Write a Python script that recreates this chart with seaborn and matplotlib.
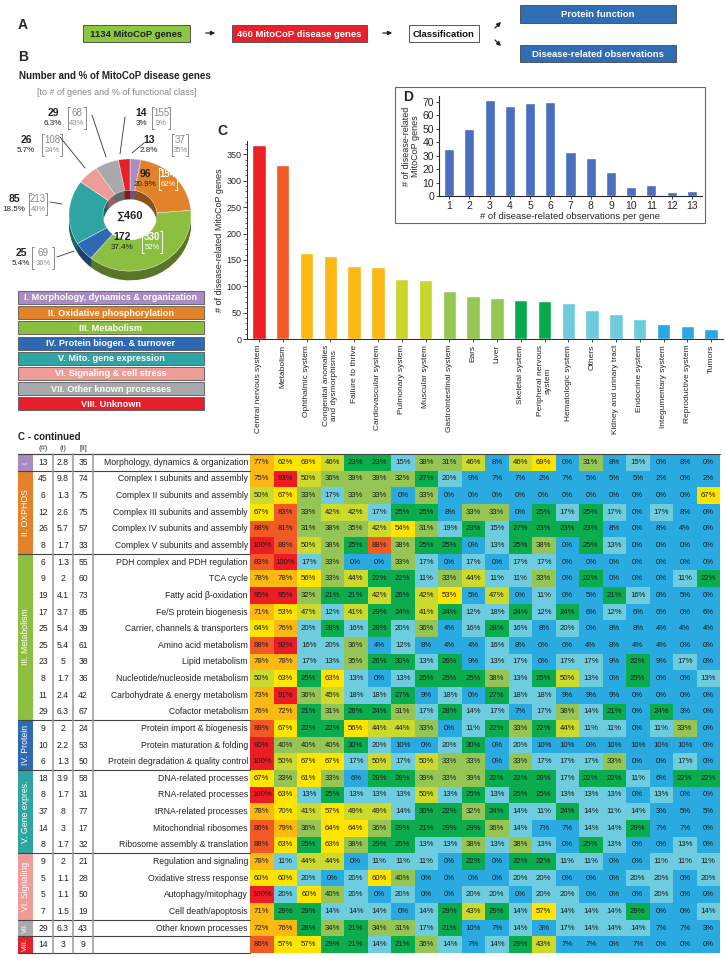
import numpy as np
import pandas as pd
import matplotlib
matplotlib.use("Agg")
import matplotlib.pyplot as plt
from matplotlib.patches import Rectangle
from matplotlib.colors import ListedColormap, BoundaryNorm, to_rgb
from matplotlib.ticker import MultipleLocator
import seaborn as sns

sns.set_style("ticks")
plt.rcParams['font.family'] = ['Liberation Sans', 'DejaVu Sans']

# ---------------- data ----------------
class_names = ["I. Morphology, dynamics & organization", "II. Oxidative phosphorylation",
               "III. Metabolism", "IV. Protein biogen. & turnover", "V. Mito. gene expression",
               "VI. Signaling & cell stress", "VII. Other known processes", "VIII. Unknown"]
class_colors = ["#A88CC2", "#E2822A", "#8CBF3F", "#2E6AB4", "#2EA5A3", "#EE9C98", "#A7A9AC", "#E5202A"]
class_genes = [13, 96, 172, 25, 85, 26, 29, 14]
class_share = ["2.8%", "20.9%", "37.4%", "5.4%", "18.5%", "5.7%", "6.3%", "3%"]
class_total = [37, 154, 330, 69, 213, 108, 68, 155]
class_frac = ["35%", "62%", "52%", "36%", "40%", "24%", "43%", "9%"]

organ_labels = ["Central nervous system", "Metabolism", "Ophthalmic system",
                "Congenital anomalies\nand dysmorphisms", "Failure to thrive",
                "Cardiovascular system", "Pulmonary system", "Muscular system",
                "Gastrointestinal system", "Ears", "Liver", "Skeletal system",
                "Peripheral nervous\nsystem", "Hematologic system", "Others",
                "Kidney and urinary tract", "Endocrine system", "Integumentary system",
                "Reproductive system", "Tumors"]
organ_genes = [367, 329, 164, 158, 138, 136, 114, 112, 92, 82, 79, 74, 72, 68, 55, 48, 38, 28, 26, 20]
organ_colors = ["#ED2024", "#F15A24"] + ["#FDB913"] * 4 + ["#C9D62B"] * 2 + ["#95C753"] * 3 \
    + ["#07AB4E"] * 2 + ["#6ECBDC"] * 4 + ["#2BA8E0"] * 3

obs_per_gene = list(range(1, 14))
obs_genes = [35, 50, 71, 67, 69, 70, 33, 28, 18, 7, 8, 3, 4]

processes = ["Morphology, dynamics & organization", "Complex I subunits and assembly",
             "Complex II subunits and assembly", "Complex III subunits and assembly",
             "Complex IV subunits and assembly", "Complex V subunits and assembly",
             "PDH complex and PDH regulation", "TCA cycle", "Fatty acid β-oxidation",
             "Fe/S protein biogenesis", "Carrier, channels & transporters", "Amino acid metabolism",
             "Lipid metabolism", "Nucleotide/nucleoside metabolism", "Carbohydrate & energy metabolism",
             "Cofactor metabolism", "Protein import & biogenesis", "Protein maturation & folding",
             "Protein degradation & quality control", "DNA-related processes", "RNA-related processes",
             "tRNA-related processes", "Mitochondrial ribosomes", "Ribosome assembly & translation",
             "Regulation and signaling", "Oxidative stress response", "Autophagy/mitophagy",
             "Cell death/apoptosis", "Other known processes", ""]
n_genes = [13, 45, 6, 12, 26, 8, 6, 9, 19, 17, 25, 25, 23, 8, 11, 29, 9, 10, 6, 18, 8, 37, 14, 8,
           9, 5, 5, 7, 29, 14]
pct_all = ["2.8", "9.8", "1.3", "2.6", "5.7", "1.7", "1.3", "2", "4.1", "3.7", "5.4", "5.4", "5",
           "1.7", "2.4", "6.3", "2", "2.2", "1.3", "3.9", "1.7", "8", "3", "1.7", "2", "1.1", "1.1",
           "1.5", "6.3", "3"]
pct_class = [35, 74, 75, 75, 57, 33, 55, 60, 73, 85, 39, 61, 38, 36, 42, 67, 24, 53, 50, 58, 31,
             77, 17, 32, 21, 28, 50, 19, 43, 9]

group_labels = ["I.", "II. OXPHOS", "III. Metabolism", "IV. Protein", "V. Gene expres.",
                "VI. Signaling", "VII.", "VIII."]
group_sizes = [1, 5, 10, 3, 5, 4, 1, 1]

# % of genes of each process with a disease-related observation per organ system
hm_morph = [[77, 62, 69, 46, 23, 23, 15, 38, 31, 46, 8, 46, 69, 0, 31, 8, 15, 0, 8, 0]]
hm_oxphos = [
    [75, 93, 50, 36, 39, 39, 32, 27, 20, 9, 7, 7, 2, 7, 5, 5, 5, 2, 0, 2],
    [50, 67, 33, 17, 33, 33, 0, 33, 0, 0, 0, 0, 0, 0, 0, 0, 0, 0, 0, 67],
    [67, 83, 33, 42, 42, 17, 25, 25, 8, 33, 33, 0, 25, 17, 25, 17, 0, 17, 8, 0],
    [88, 81, 31, 38, 35, 42, 54, 31, 19, 23, 15, 27, 23, 23, 23, 8, 0, 8, 4, 0],
    [100, 88, 50, 38, 25, 88, 38, 25, 25, 0, 13, 25, 38, 0, 25, 13, 0, 0, 0, 0]]
hm_metab = [
    [83, 100, 17, 33, 0, 0, 33, 17, 0, 17, 0, 17, 17, 0, 0, 0, 0, 0, 0, 0],
    [78, 78, 56, 33, 44, 22, 22, 11, 33, 44, 11, 11, 33, 0, 22, 0, 0, 0, 11, 22],
    [95, 95, 32, 21, 21, 42, 26, 42, 53, 5, 47, 0, 11, 0, 5, 21, 16, 0, 5, 0],
    [71, 53, 47, 12, 41, 29, 24, 41, 24, 12, 18, 24, 12, 24, 6, 12, 6, 6, 0, 6],
    [64, 76, 20, 28, 16, 28, 20, 36, 4, 16, 28, 16, 8, 20, 0, 8, 8, 4, 4, 4],
    [88, 92, 16, 20, 36, 4, 12, 8, 4, 4, 16, 8, 0, 0, 4, 8, 4, 4, 0, 0],
    [78, 78, 17, 13, 35, 26, 30, 13, 26, 9, 13, 17, 0, 17, 17, 9, 22, 9, 17, 0],
    [50, 63, 25, 63, 13, 0, 13, 25, 25, 25, 38, 13, 25, 50, 13, 0, 25, 0, 0, 13],
    [73, 91, 36, 45, 18, 18, 27, 9, 18, 0, 27, 18, 18, 9, 9, 9, 0, 0, 0, 0],
    [76, 72, 21, 31, 28, 24, 31, 17, 28, 14, 17, 7, 17, 38, 14, 21, 0, 24, 3, 0]]
hm_protein = [
    [89, 67, 22, 22, 56, 44, 44, 33, 0, 11, 22, 33, 22, 44, 11, 11, 0, 11, 33, 0],
    [90, 40, 40, 40, 30, 20, 10, 0, 20, 30, 0, 20, 10, 10, 0, 10, 10, 10, 10, 0],
    [100, 50, 67, 67, 17, 50, 17, 50, 33, 33, 0, 33, 17, 17, 17, 33, 0, 0, 17, 0]]
hm_geneexp = [
    [67, 33, 61, 33, 6, 28, 28, 39, 33, 39, 22, 22, 28, 17, 22, 22, 11, 6, 22, 22],
    [100, 63, 13, 25, 13, 13, 13, 50, 13, 25, 13, 25, 25, 13, 13, 13, 0, 13, 0, 0],
    [78, 70, 41, 57, 49, 49, 14, 30, 22, 32, 24, 14, 11, 24, 14, 11, 14, 3, 5, 5],
    [86, 79, 36, 64, 64, 36, 29, 21, 29, 29, 36, 14, 7, 7, 14, 14, 29, 7, 7, 0],
    [88, 63, 25, 63, 38, 25, 25, 13, 13, 38, 13, 38, 13, 0, 25, 13, 0, 0, 13, 0]]
hm_signal = [
    [78, 11, 44, 44, 0, 11, 11, 11, 0, 22, 0, 22, 22, 11, 11, 0, 0, 11, 11, 11],
    [60, 60, 20, 0, 20, 60, 40, 0, 0, 0, 0, 20, 20, 0, 0, 0, 20, 20, 0, 20],
    [100, 20, 60, 40, 20, 0, 20, 0, 0, 20, 20, 0, 20, 20, 0, 0, 0, 20, 0, 0],
    [71, 29, 29, 14, 14, 14, 0, 14, 29, 43, 29, 14, 57, 14, 14, 14, 29, 0, 0, 14]]
hm_other = [[72, 76, 28, 34, 21, 34, 31, 17, 21, 10, 7, 14, 3, 17, 14, 14, 14, 7, 7, 3]]
hm_unknown = [[86, 57, 57, 29, 21, 14, 21, 36, 14, 7, 14, 29, 43, 7, 7, 0, 7, 0, 0, 0]]

heat_colors = ["#29AAE1", "#6DCCDD", "#0AAC4E", "#95C655", "#CBDA2C", "#FFE400",
               "#FDB913", "#F15A24", "#ED1C24"]
heat_bounds = [-0.5, 10.5, 20.5, 30.5, 40.5, 50.5, 70.5, 80.5, 89.5, 100.5]

# ---------------- figure ----------------
W, H = 725, 958
fig = plt.figure(figsize=(W / 100, H / 100), dpi=100)


def px(x, y, w, h):
    return [x / W, 1 - (y + h) / H, w / W, h / H]


# C: bar chart of organ systems
axc = fig.add_axes(px(247, 141, 476, 198.3))
df_org = pd.DataFrame({"organ": organ_labels, "genes": organ_genes})
sns.barplot(data=df_org, x="organ", y="genes", hue="organ", palette=organ_colors,
            legend=False, width=0.57, saturation=1, ax=axc)
axc.set_xlim(-0.5, 19.5)
axc.set_ylim(0, 375)
axc.set_yticks(range(0, 351, 50))
axc.yaxis.set_minor_locator(MultipleLocator(10))
axc.tick_params(axis="y", labelsize=6.5, length=3, width=0.6, pad=1)
axc.tick_params(axis="y", which="minor", length=1.5, width=0.5)
axc.tick_params(axis="x", length=2, width=0.6, pad=2)
axc.set_xticks(range(20))
axc.set_xticklabels(organ_labels, rotation=90, fontsize=6, va="top")
axc.set_xlabel("")
axc.set_ylabel("# of disease-related MitoCoP genes", fontsize=6.5, labelpad=2)
sns.despine(ax=axc)
for s in axc.spines.values():
    s.set_linewidth(0.7)

# D: inset histogram
axd = fig.add_axes(px(439, 96.3, 263, 99.7))
sns.barplot(x=obs_per_gene, y=obs_genes, color="#4A6FBE", width=0.5, saturation=1, ax=axd)
axd.set_ylim(0, 74)
axd.set_xlim(-0.5, 12.5)
axd.set_yticks(range(0, 71, 10))
axd.tick_params(labelsize=7.5, length=2.5, width=0.6, pad=1)
axd.set_xlabel("# of disease-related observations per gene", fontsize=6.8, labelpad=1)
axd.set_ylabel("# of disease-related\nMitoCoP genes", fontsize=6.5, labelpad=2, linespacing=0.95)
sns.despine(ax=axd)

# B: donut
axp = fig.add_axes(px(40, 130, 180, 170))
k = 0.92
dark = [tuple(c * 0.62 for c in to_rgb(col)) for col in class_colors]
for d in range(10, 0, -1):
    axp.pie(class_genes, colors=dark, radius=61, center=(0, -d), startangle=90,
            counterclock=False, wedgeprops=dict(width=34, linewidth=0))
axp.pie(class_genes, colors=class_colors, radius=61, center=(0, 0), startangle=90,
        counterclock=False, wedgeprops=dict(width=34, linewidth=0.3, edgecolor="white"))
axp.set_aspect("auto")
axp.set_xlim(-90, 90)
axp.set_ylim(-85 / k, 85 / k)
axp.axis("off")

# heatmap (C - continued)
hm = np.array(hm_morph + hm_oxphos + hm_metab + hm_protein + hm_geneexp + hm_signal
              + hm_other + hm_unknown)
annot = np.array([[f"{v}%" for v in row] for row in hm])
axh = fig.add_axes(px(250, 454, 470, 499))
sns.heatmap(hm, cmap=ListedColormap(heat_colors), norm=BoundaryNorm(heat_bounds, 9),
            annot=annot, fmt="", cbar=False, linewidths=0,
            annot_kws={"fontsize": 5.6, "color": "#1a1a1a"},
            xticklabels=False, yticklabels=False, ax=axh)

# overlay for panel A, labels, legend and table text
ov = fig.add_axes([0, 0, 1, 1])
ov.set_xlim(0, W)
ov.set_ylim(H, 0)
ov.axis("off")

# panel A
ov.text(18, 25, "A", fontsize=10, fontweight="bold", va="center")
boxes = [(83, 25, 190, 42, "#8DC63F", "#222222", "1134 MitoCoP genes"),
         (232, 25, 367, 42, "#E8202A", "white", "460 MitoCoP disease genes"),
         (409, 25, 479, 42, "white", "#111111", "Classification"),
         (520, 5, 676, 23, "#2F6DB5", "white", "Protein function"),
         (520, 45, 676, 62, "#2F6DB5", "white", "Disease-related observations")]
for x0, y0, x1, y1, fc, tc, txt in boxes:
    ov.add_patch(Rectangle((x0, y0), x1 - x0, y1 - y0, facecolor=fc, edgecolor="#555555", lw=0.7))
    ov.text((x0 + x1) / 2, (y0 + y1) / 2 + 0.5, txt, color=tc, fontsize=6.8, fontweight="bold",
            ha="center", va="center")
for (xa, ya), (xb, yb) in [((203, 33), (218, 33)), ((380, 33), (395, 33)),
                           ((493, 30), (503, 20)), ((493, 38), (503, 48))]:
    ov.annotate("", xy=(xb, yb), xytext=(xa, ya),
                arrowprops=dict(arrowstyle="-|>", color="#222222", lw=0.9, mutation_scale=6))

# panel B text
ov.text(18, 57, "B", fontsize=10, fontweight="bold", va="center")
ov.text(19, 76, "Number and % of MitoCoP disease genes", fontsize=7, fontweight="bold",
        va="center", color="#222222")
ov.text(117, 92, "[to # of genes and % of functional class]", fontsize=6.5, color="#888888",
        ha="center", va="center")
ov.text(130, 216, "∑460", fontsize=8, fontweight="bold", ha="center", va="center", color="#222222")

# label positions: (x, y of number, bracket centre x, bracket half width, inside donut)
lab_pos = [(149, 140, 180, 8, False), (145, 174, 168, 9, True), (122, 237, 152, 10, True),
           (21, 253, 43, 11, False), (14, 199, 38, 9, False), (26, 140, 52, 10, False),
           (53, 113, 77, 9, False), (141, 113, 161, 9, False)]
for i, (x, y, bx, hw, inside) in enumerate(lab_pos):
    bcol = "white" if inside else "#8a8a8a"
    ov.text(x, y, str(class_genes[i]), fontsize=7.5, fontweight="bold", ha="center", va="center",
            color="#222222")
    ov.text(x, y + 10.5, class_share[i], fontsize=5.8, ha="center", va="center", color="#222222")
    ov.text(bx, y, str(class_total[i]), fontsize=7, ha="center", va="center", color=bcol,
            fontweight="bold" if inside else "normal")
    ov.text(bx, y + 10.5, class_frac[i], fontsize=5.5, ha="center", va="center", color=bcol)
    for sx in (-1, 1):
        xe = bx + sx * hw
        ov.plot([xe + (-sx) * 2, xe, xe, xe + (-sx) * 2], [y - 6, y - 6, y + 16, y + 16],
                color=bcol, lw=0.7)
for (xa, ya), (xb, yb) in [((92, 115), (106, 157)), ((125, 117), (120, 154)),
                           ((144, 143), (132, 153)), ((60, 137), (85, 168)),
                           ((50, 202), (62, 204)), ((57, 257), (74, 251))]:
    ov.plot([xa, xb], [ya, yb], color="#333333", lw=0.6)

# legend of functional classes
for i, (name, col) in enumerate(zip(class_names, class_colors)):
    y0 = 291 + i * 15.2
    ov.add_patch(Rectangle((18, y0), 186, 13, facecolor=col, edgecolor="#555555", lw=0.6))
    ov.text(111, y0 + 6.8, name, color="white", fontsize=6.6, fontweight="bold",
            ha="center", va="center")

# panel letters C, D and inset frame
ov.text(217, 131, "C", fontsize=10, fontweight="bold", va="center")
ov.add_patch(Rectangle((395, 87), 310, 136, facecolor="none", edgecolor="#666666", lw=0.8))
ov.text(403, 97, "D", fontsize=10, fontweight="bold", va="center")

# table (C - continued)
top, bottom = 454, 953
rh = (bottom - top) / 30
ov.text(18, 437, "C - continued", fontsize=7, fontweight="bold", va="center", color="#222222")
for xh, t in [(43, "(#)"), (63, "(i)"), (83, "[ii]")]:
    ov.text(xh, 448, t, fontsize=5.5, ha="center", va="center", color="#333333")
for r in range(30):
    yc = top + (r + 0.5) * rh
    ov.text(43, yc, str(n_genes[r]), fontsize=6.2, ha="center", va="center", color="#222222")
    ov.text(63, yc, pct_all[r], fontsize=6.2, ha="center", va="center", color="#222222")
    ov.text(83, yc, str(pct_class[r]), fontsize=6.2, ha="center", va="center", color="#222222")
    ov.text(248, yc, processes[r], fontsize=6.2, ha="right", va="center", color="#222222")
start = 0
for g, (lab, size) in enumerate(zip(group_labels, group_sizes)):
    y0 = top + start * rh
    ov.add_patch(Rectangle((18, y0), 15, size * rh, facecolor=class_colors[g], edgecolor="none"))
    ov.text(25.5, y0 + size * rh / 2, lab, rotation=90, color="white", fontsize=6.3 if size > 1 else 5.2,
            ha="center", va="center")
    ov.plot([18, 250], [y0, y0], color="#444444", lw=0.8)
    start += size
ov.plot([18, 720], [top, top], color="#444444", lw=0.8)
ov.plot([18, 250], [bottom, bottom], color="#444444", lw=0.8)
for xv in (53, 73, 93):
    ov.plot([xv, xv], [top, bottom], color="#999999", lw=1.1)

fig.savefig("out.png", dpi=100)
